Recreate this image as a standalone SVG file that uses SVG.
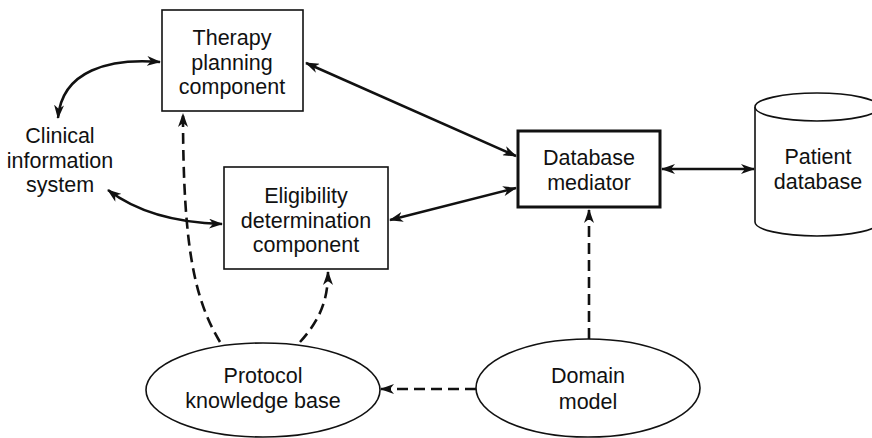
<svg xmlns="http://www.w3.org/2000/svg" width="872" height="438" viewBox="0 0 872 438">
<style>
.box{fill:#fff;stroke:#111;stroke-width:1.6}
.bold{stroke-width:3}
.t{font-family:"Liberation Sans",Arial,sans-serif;font-size:21.5px;fill:#111;text-anchor:middle}
.c{fill:none;stroke:#111;stroke-width:2.5}
.d{fill:none;stroke:#111;stroke-width:2.6;stroke-dasharray:11 6}
</style>
<defs>
<marker id="ah" viewBox="0 0 14 10" refX="13" refY="5" markerWidth="14" markerHeight="10" markerUnits="userSpaceOnUse" orient="auto-start-reverse">
<path d="M0,0 L14,5 L0,10 L4,5 z" fill="#111"/>
</marker>
</defs>
<rect width="872" height="438" fill="#fff"/>
<g id="connectors">
<path class="c" d="M306,63 L516,156" marker-start="url(#ah)" marker-end="url(#ah)"/>
<path class="c" d="M390,220 L516,188" marker-start="url(#ah)" marker-end="url(#ah)"/>
<path class="c" d="M662,169 L754,169" marker-start="url(#ah)" marker-end="url(#ah)"/>
<path class="c" d="M160,62 C110,58 62,70 58,118" marker-start="url(#ah)" marker-end="url(#ah)"/>
<path class="c" d="M108,190 Q150,222 222,224" marker-start="url(#ah)" marker-end="url(#ah)"/>
<path class="d" d="M220,342 C195,300 183,250 183,114" marker-end="url(#ah)"/>
<path class="d" d="M300,342 C320,320 328,300 328,272" marker-end="url(#ah)"/>
<path class="d" d="M589,339 L589,210" marker-end="url(#ah)"/>
<path class="d" d="M476,389 L381,389" marker-end="url(#ah)"/>
</g>
<g id="therapy">
<rect class="box" x="162" y="10" width="141" height="101"/>
<text class="t" x="232" y="45">Therapy</text>
<text class="t" x="232" y="70">planning</text>
<text class="t" x="232" y="94">component</text>
</g>
<g id="clinical">
<text class="t" x="60" y="143">Clinical</text>
<text class="t" x="60" y="168">information</text>
<text class="t" x="60" y="192">system</text>
</g>
<g id="eligibility">
<rect class="box" x="224" y="167" width="164" height="102"/>
<text class="t" x="306" y="203">Eligibility</text>
<text class="t" x="306" y="228">determination</text>
<text class="t" x="306" y="252">component</text>
</g>
<g id="mediator">
<rect class="box bold" x="518" y="131" width="142" height="76"/>
<text class="t" x="589" y="165">Database</text>
<text class="t" x="589" y="190">mediator</text>
</g>
<g id="patient">
<path class="box" d="M755,107 L755,222 A62,14 0 0 0 879,222 L879,107"/>
<ellipse class="box" cx="817" cy="107" rx="62" ry="14"/>
<text class="t" x="818" y="164">Patient</text>
<text class="t" x="818" y="189">database</text>
</g>
<g id="protocol">
<ellipse class="box" cx="263" cy="390" rx="117" ry="47"/>
<text class="t" x="263" y="383">Protocol</text>
<text class="t" x="263" y="408">knowledge base</text>
</g>
<g id="domain">
<ellipse class="box" cx="588" cy="388" rx="112" ry="49"/>
<text class="t" x="588" y="383">Domain</text>
<text class="t" x="588" y="409">model</text>
</g>
</svg>
